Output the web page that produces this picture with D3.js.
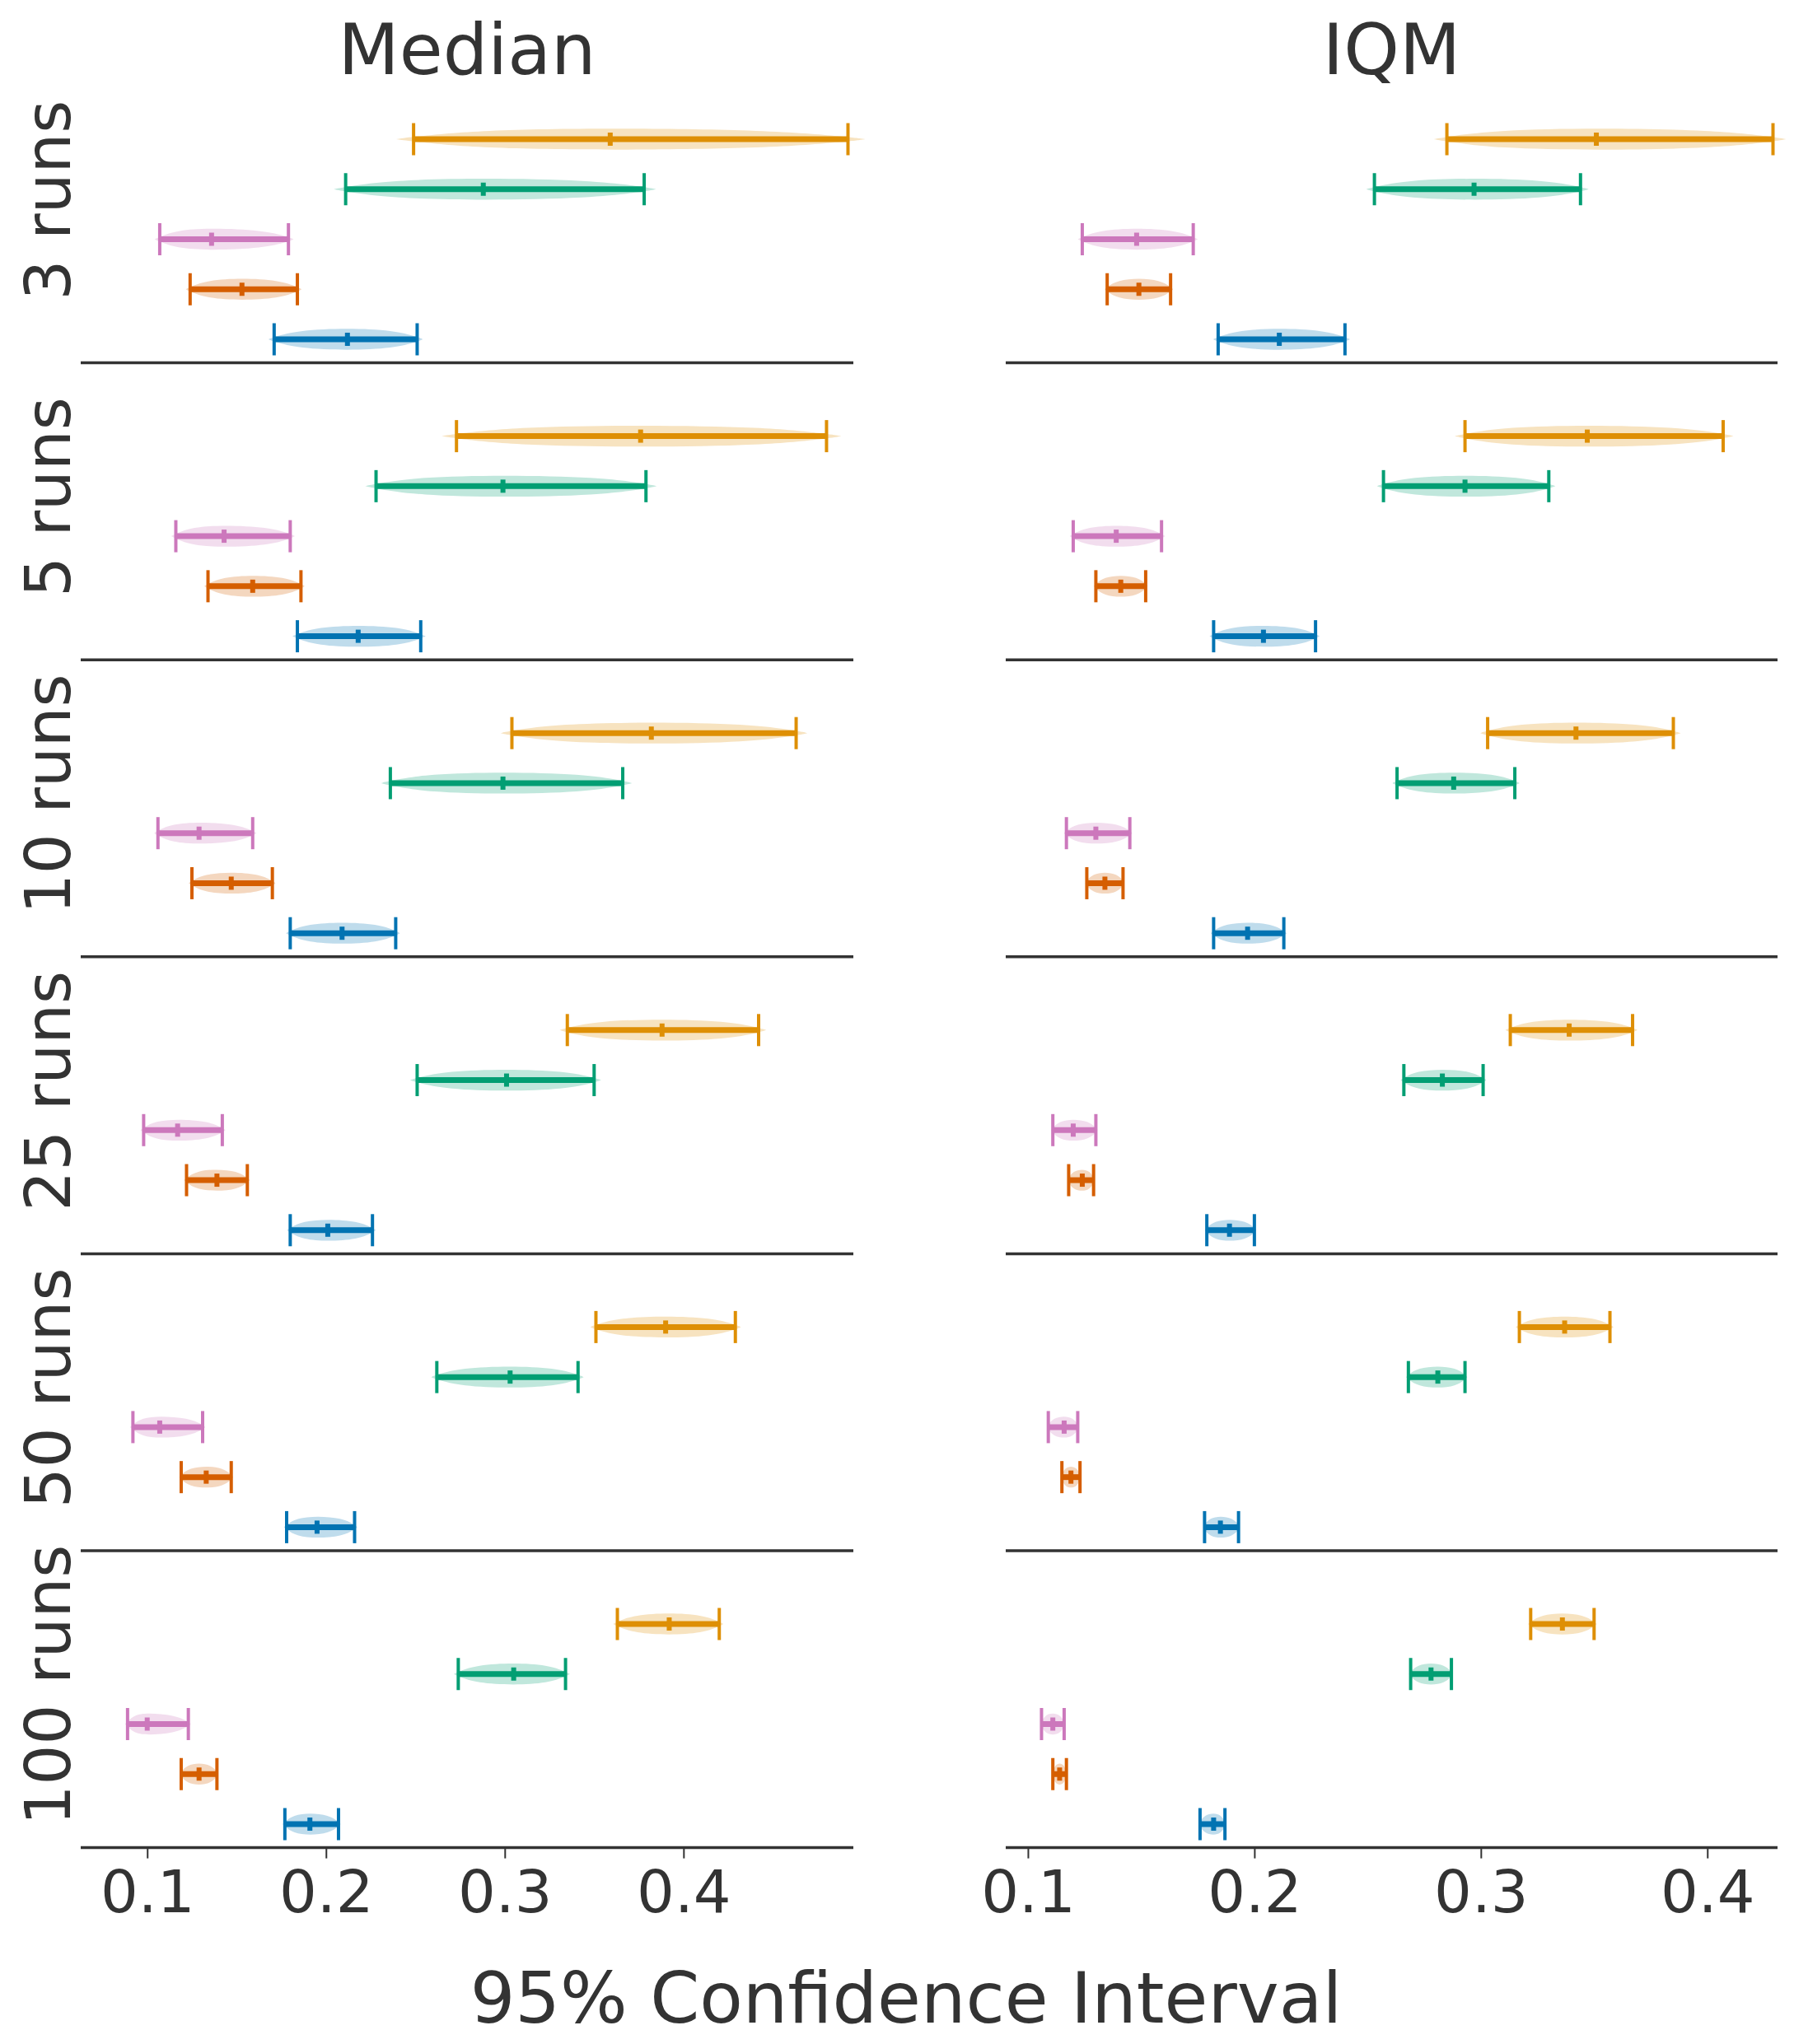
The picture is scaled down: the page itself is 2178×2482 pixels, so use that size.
<!DOCTYPE html>
<html>
<head>
<meta charset="utf-8">
<script src="https://cdn.jsdelivr.net/npm/d3@7"></script>
<style>
  body { margin: 0; background: #fff; }
  text { font-family: "DejaVu Sans", sans-serif; fill: #333; }
</style>
</head>
<body>
<script>
// rows, top to bottom
const runs = ['3 runs', '5 runs', '10 runs', '25 runs', '50 runs', '100 runs'];
// series, top to bottom within each row
const series = ['orange', 'green', 'pink', 'vermillion', 'blue'];
const colors = ['#de8f05', '#029e73', '#cc78bc', '#d55e00', '#0173b2'];
const ticks = [0.1, 0.2, 0.3, 0.4];

// [lower, point, upper] per row per series
const medianCI = [
  [[0.249, 0.359, 0.492], [0.211, 0.288, 0.378], [0.107, 0.136, 0.179], [0.124, 0.153, 0.184], [0.171, 0.212, 0.251]],
  [[0.273, 0.376, 0.480], [0.228, 0.299, 0.379], [0.116, 0.143, 0.180], [0.134, 0.159, 0.186], [0.184, 0.218, 0.253]],
  [[0.304, 0.382, 0.463], [0.236, 0.299, 0.366], [0.106, 0.129, 0.159], [0.125, 0.147, 0.170], [0.180, 0.209, 0.239]],
  [[0.335, 0.388, 0.442], [0.251, 0.301, 0.350], [0.098, 0.117, 0.142], [0.122, 0.139, 0.156], [0.180, 0.201, 0.226]],
  [[0.351, 0.390, 0.429], [0.262, 0.303, 0.341], [0.092, 0.107, 0.131], [0.119, 0.133, 0.147], [0.178, 0.195, 0.216]],
  [[0.363, 0.392, 0.420], [0.274, 0.305, 0.334], [0.089, 0.100, 0.123], [0.119, 0.129, 0.139], [0.177, 0.191, 0.207]]
];
const iqmCI = [
  [[0.285, 0.351, 0.429], [0.253, 0.297, 0.344], [0.124, 0.148, 0.173], [0.135, 0.149, 0.163], [0.184, 0.211, 0.240]],
  [[0.293, 0.347, 0.407], [0.257, 0.293, 0.330], [0.120, 0.139, 0.159], [0.130, 0.141, 0.152], [0.182, 0.204, 0.227]],
  [[0.303, 0.342, 0.385], [0.263, 0.288, 0.315], [0.117, 0.130, 0.145], [0.126, 0.134, 0.142], [0.182, 0.197, 0.213]],
  [[0.313, 0.339, 0.367], [0.266, 0.283, 0.301], [0.111, 0.120, 0.130], [0.118, 0.124, 0.129], [0.179, 0.189, 0.200]],
  [[0.317, 0.337, 0.357], [0.268, 0.281, 0.293], [0.109, 0.116, 0.122], [0.115, 0.119, 0.123], [0.178, 0.185, 0.193]],
  [[0.322, 0.336, 0.350], [0.269, 0.278, 0.287], [0.106, 0.111, 0.116], [0.111, 0.114, 0.117], [0.176, 0.182, 0.187]]
];

const W = 2178, H = 2482;
const rowTop = 80, rowH = 360.6;

const svg = d3.select('body').append('svg').attr('width', W).attr('height', H);

const panels = [
  { title: 'Median', data: medianCI, x: d3.scaleLinear().domain([0.0628, 0.495]).range([98, 1036]) },
  { title: 'IQM', data: iqmCI, x: d3.scaleLinear().domain([0.0902, 0.431]).range([1221, 2158]) }
];

const yIn = d3.scaleLinear().domain([0, series.length - 1]).range([89, 332]);
const area = d3.area().x(d => d[0]).y0(d => -d[1]).y1(d => d[1]).curve(d3.curveBasis);

panels.forEach(p => {
  const [x0, x1] = p.x.range();
  svg.append('text').attr('x', (x0 + x1) / 2).attr('y', 90)
    .attr('text-anchor', 'middle').attr('font-size', 86).text(p.title);

  runs.forEach((r, ri) => {
    const g = svg.append('g').attr('transform', `translate(0,${rowTop + ri * rowH})`);
    p.data[ri].forEach((ci, si) => {
      const [lo, pt, hi] = ci;
      const c = colors[si];
      const gy = g.append('g').attr('transform', `translate(0,${yIn(si)})`);
      const xl = p.x(lo), xp = p.x(pt), xh = p.x(hi);
      const ext = (xh - xl) * 0.04;
      const pts = [[xl - ext, 0], [xl, 3], [(xl * 2 + xp) / 3, 11], [xp, 13.5], [(xh * 2 + xp) / 3, 11], [xh, 3], [xh + ext, 0]];
      gy.append('path').attr('d', area(pts)).attr('fill', c).attr('fill-opacity', 0.25);
      gy.append('line').attr('x1', xl).attr('x2', xh).attr('stroke', c).attr('stroke-width', 7);
      [xl, xh].forEach(xx => gy.append('line').attr('x1', xx).attr('x2', xx)
        .attr('y1', -19.5).attr('y2', 19.5).attr('stroke', c).attr('stroke-width', 4));
      gy.append('line').attr('x1', xp).attr('x2', xp).attr('y1', -8).attr('y2', 8)
        .attr('stroke', c).attr('stroke-width', 6);
    });
    g.append('line').attr('x1', x0).attr('x2', x1).attr('y1', rowH).attr('y2', rowH)
      .attr('stroke', '#333').attr('stroke-width', 3.5);
  });

  const axis = d3.axisBottom(p.x).tickValues(ticks).tickFormat(d3.format('.1f'))
    .tickSize(13).tickPadding(14);
  const ag = svg.append('g').attr('transform', `translate(0,${rowTop + runs.length * rowH})`).call(axis);
  ag.select('.domain').remove();
  ag.selectAll('.tick line').attr('stroke', '#333').attr('stroke-width', 2);
  ag.selectAll('.tick text').attr('font-size', 72).attr('fill', '#333');
});

runs.forEach((r, ri) => {
  const cy = rowTop + ri * rowH + 163;
  svg.append('text').attr('transform', `translate(85,${cy}) rotate(-90)`)
    .attr('text-anchor', 'middle').attr('font-size', 77).text(r);
});

svg.append('text').attr('x', 1100).attr('y', 2456).attr('text-anchor', 'middle')
  .attr('font-size', 86).text('95% Confidence Interval');
</script>
</body>
</html>
